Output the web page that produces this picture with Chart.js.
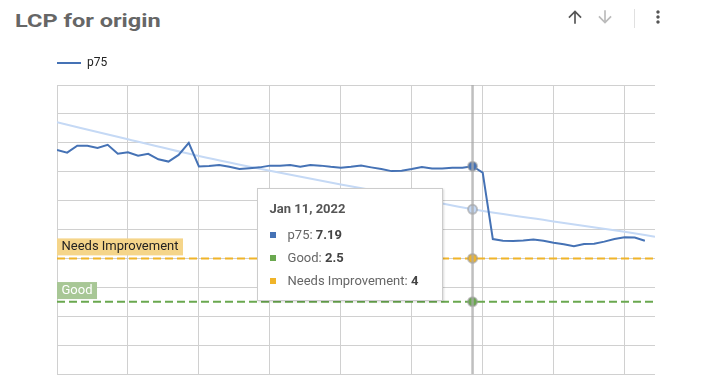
<!DOCTYPE html>
<html lang="en">
<head>
<meta charset="UTF-8">
<title>LCP for origin</title>
<script src="https://cdn.jsdelivr.net/npm/chart.js"></script>
<style>
  body {
    margin: 0;
    width: 728px;
    height: 392px;
    background: #fff;
    font-family: Roboto, sans-serif;
    position: relative;
    overflow: hidden;
  }
  .title {
    position: absolute;
    left: 15px;
    top: 9px;
    font-size: 19px;
    font-weight: bold;
    color: #666;
    transform: scaleX(1.24);
    transform-origin: left center;
  }
  .icon {
    position: absolute;
    top: 7px;
    width: 20px;
    height: 20px;
  }
  .sep {
    position: absolute;
    left: 634px;
    top: 9px;
    width: 1px;
    height: 19px;
    background: #e0e0e0;
  }
  #wrap {
    position: absolute;
    left: 0;
    top: 0;
    width: 728px;
    height: 392px;
  }
  #tip {
    position: absolute;
    box-sizing: border-box;
    width: 186px;
    height: 113px;
    background: #fff;
    border: 1px solid #ccc;
    box-shadow: 1px 1px 2px rgba(0, 0, 0, 0.15);
    padding: 12px 0 0 12px;
    font-size: 13px;
    color: #666;
  }
  #tip .t { font-weight: bold; color: #555; line-height: 16px; margin-bottom: 6px; }
  #tip .r { line-height: 23px; }
  #tip .r i { display: inline-block; width: 6px; height: 6px; margin-right: 12px; vertical-align: middle; position: relative; top: -1px; }
  #tip .r b { color: #444; }
</style>
</head>
<body>
  <div class="title">LCP for origin</div>
  <!-- toolbar icons -->
  <svg class="icon" style="left:565px" viewBox="0 0 24 24"><path fill="#555" d="M4 12l1.41 1.41L11 7.83V20h2V7.83l5.58 5.59L20 12l-8-8-8 8z"/></svg>
  <svg class="icon" style="left:595px" viewBox="0 0 24 24"><path fill="#bbb" d="M20 12l-1.41-1.41L13 16.17V4h-2v12.17l-5.58-5.59L4 12l8 8 8-8z"/></svg>
  <div class="sep"></div>
  <svg class="icon" style="left:648px" viewBox="0 0 24 24"><path fill="#555" d="M12 8c1.1 0 2-.9 2-2s-.9-2-2-2-2 .9-2 2 .9 2 2 2zm0 2c-1.1 0-2 .9-2 2s.9 2 2 2 2-.9 2-2-.9-2-2-2zm0 6c-1.1 0-2 .9-2 2s.9 2 2 2 2-.9 2-2-.9-2-2-2z"/></svg>

  <div id="wrap"><canvas id="lcpChart" width="728" height="392"></canvas></div>
  <div id="tip"></div>

  <script>
    // p75 LCP per day (seconds), Dec 1 2021 onwards
    const p75 = [7.75, 7.66, 7.90, 7.90, 7.82, 7.93, 7.62, 7.67, 7.55, 7.62, 7.43, 7.35, 7.58, 8.00, 7.18,
                 7.20, 7.23, 7.17, 7.09, 7.12, 7.15, 7.21, 7.21, 7.23, 7.17, 7.23, 7.21, 7.17, 7.14,
                 7.17, 7.21, 7.15, 7.09, 7.02, 7.03, 7.09, 7.16, 7.11, 7.11, 7.14, 7.14, 7.19,
                 6.97, 4.67, 4.61, 4.60, 4.62, 4.65, 4.61, 4.54, 4.49, 4.42, 4.50, 4.51, 4.58, 4.67, 4.73, 4.72, 4.61];
    const days = p75.map((_, i) => i);

    // trendline
    const trendDays = [0, 7, 14, 21, 28, 35, 41, 49, 56, 59];
    const trendValues = [8.71, 8.12, 7.54, 7.03, 6.56, 6.11, 5.70, 5.28, 4.92, 4.75];

    // thresholds
    const refDays = [0, 41, 59];
    const goodValues = [2.5, 2.5, 2.5];
    const needsValues = [4, 4, 4];

    const hoverDay = 41;
    const hoverDate = 'Jan 11, 2022';
    const xMax = 59;
    const yMax = 10;

    const blue = '#4572b5';
    const green = '#6aa84f';
    const orange = '#f0b429';

    const pts = (xs, ys) => xs.map((x, i) => ({ x: x, y: ys[i] }));

    const hoverRing = {
      pointRadius: 0,
      pointHoverRadius: 4.5,
      pointHoverBorderWidth: 2,
      pointHoverBorderColor: 'rgba(150,150,150,0.55)'
    };

    // labels for threshold lines + crosshair
    const overlay = {
      id: 'overlay',
      beforeInit(chart) {
        const fit = chart.legend.fit;
        chart.legend.fit = function () { fit.call(this); this.height += 6; };
      },
      afterDatasetsDraw(chart) {
        const ctx = chart.ctx;
        const area = chart.chartArea;
        const y = chart.scales.y;
        const x = chart.scales.x;

        const tags = [
          { text: 'Needs Improvement', value: needsValues[0], bg: '#f5d58a', fg: '#222', gap: 3 },
          { text: 'Good', value: goodValues[0], bg: '#a8c796', fg: '#fff', gap: 2.7 }
        ];
        ctx.save();
        ctx.font = '13px Roboto';
        ctx.textBaseline = 'middle';
        tags.forEach(t => {
          const ly = y.getPixelForValue(t.value);
          const w = ctx.measureText(t.text).width + 9;
          ctx.fillStyle = t.bg;
          ctx.fillRect(area.left, ly - t.gap - 17, w, 17);
          ctx.fillStyle = t.fg;
          ctx.fillText(t.text, area.left + 4.5, ly - t.gap - 8.5);
        });

        const cx = x.getPixelForValue(hoverDay);
        ctx.strokeStyle = 'rgba(170,170,170,0.75)';
        ctx.lineWidth = 2.5;
        ctx.beginPath();
        ctx.moveTo(cx, area.top);
        ctx.lineTo(cx, area.bottom);
        ctx.stroke();
        ctx.restore();
      }
    };

    const ctx = document.getElementById('lcpChart').getContext('2d');
    const chart = new Chart(ctx, {
      type: 'line',
      data: {
        datasets: [
          Object.assign({ label: 'p75', data: pts(days, p75), borderColor: blue, backgroundColor: blue, borderWidth: 2, pointHoverBackgroundColor: blue }, hoverRing),
          Object.assign({ label: 'Trend', data: pts(trendDays, trendValues), borderColor: '#c5d9f5', backgroundColor: '#c5d9f5', borderWidth: 2, cubicInterpolationMode: 'monotone', pointHoverBackgroundColor: '#c5d9f5' }, hoverRing),
          Object.assign({ label: 'Good', data: pts(refDays, goodValues), borderColor: green, backgroundColor: green, borderWidth: 2, borderDash: [8, 4], pointHoverBackgroundColor: green }, hoverRing),
          Object.assign({ label: 'Needs Improvement', data: pts(refDays, needsValues), borderColor: orange, backgroundColor: orange, borderWidth: 2, borderDash: [8, 4], pointHoverBackgroundColor: orange }, hoverRing)
        ]
      },
      options: {
        responsive: false,
        animation: false,
        events: [],
        layout: { padding: { left: 57, right: 73, top: 57, bottom: 18 } },
        scales: {
          x: {
            type: 'linear',
            min: 0,
            max: xMax,
            ticks: { display: false, stepSize: 7, includeBounds: false },
            grid: { color: '#d0d0d0', drawTicks: false },
            border: { display: false }
          },
          y: {
            min: 0,
            max: yMax,
            ticks: { display: false, stepSize: 1 },
            grid: { color: '#d0d0d0', drawTicks: false },
            border: { display: false }
          }
        },
        plugins: {
          legend: {
            position: 'top',
            align: 'start',
            labels: {
              filter: item => item.datasetIndex === 0,
              usePointStyle: true,
              pointStyle: 'line',
              pointStyleWidth: 24,
              padding: 0,
              color: '#222',
              font: { family: 'Roboto', size: 12 }
            }
          },
          tooltip: { enabled: false }
        }
      },
      plugins: [overlay]
    });

    const active = [
      { datasetIndex: 0, index: hoverDay },
      { datasetIndex: 1, index: trendDays.indexOf(hoverDay) },
      { datasetIndex: 2, index: refDays.indexOf(hoverDay) },
      { datasetIndex: 3, index: refDays.indexOf(hoverDay) }
    ];
    chart.setActiveElements(active);
    chart.render();

    // tooltip box (p75, Good, Needs Improvement)
    const tip = document.getElementById('tip');
    const rows = [
      { name: 'p75', color: blue, value: p75[hoverDay] },
      { name: 'Good', color: green, value: goodValues[1] },
      { name: 'Needs Improvement', color: orange, value: needsValues[1] }
    ];
    tip.innerHTML = '<div class="t">' + hoverDate + '</div>' +
      rows.map(r => '<div class="r"><i style="background:' + r.color + '"></i>' + r.name + ': <b>' + r.value + '</b></div>').join('');
    const px = chart.scales.x.getPixelForValue(hoverDay);
    tip.style.left = (px - 30 - 186) + 'px';
    tip.style.top = (chart.chartArea.top + 103) + 'px';
  </script>
</body>
</html>
